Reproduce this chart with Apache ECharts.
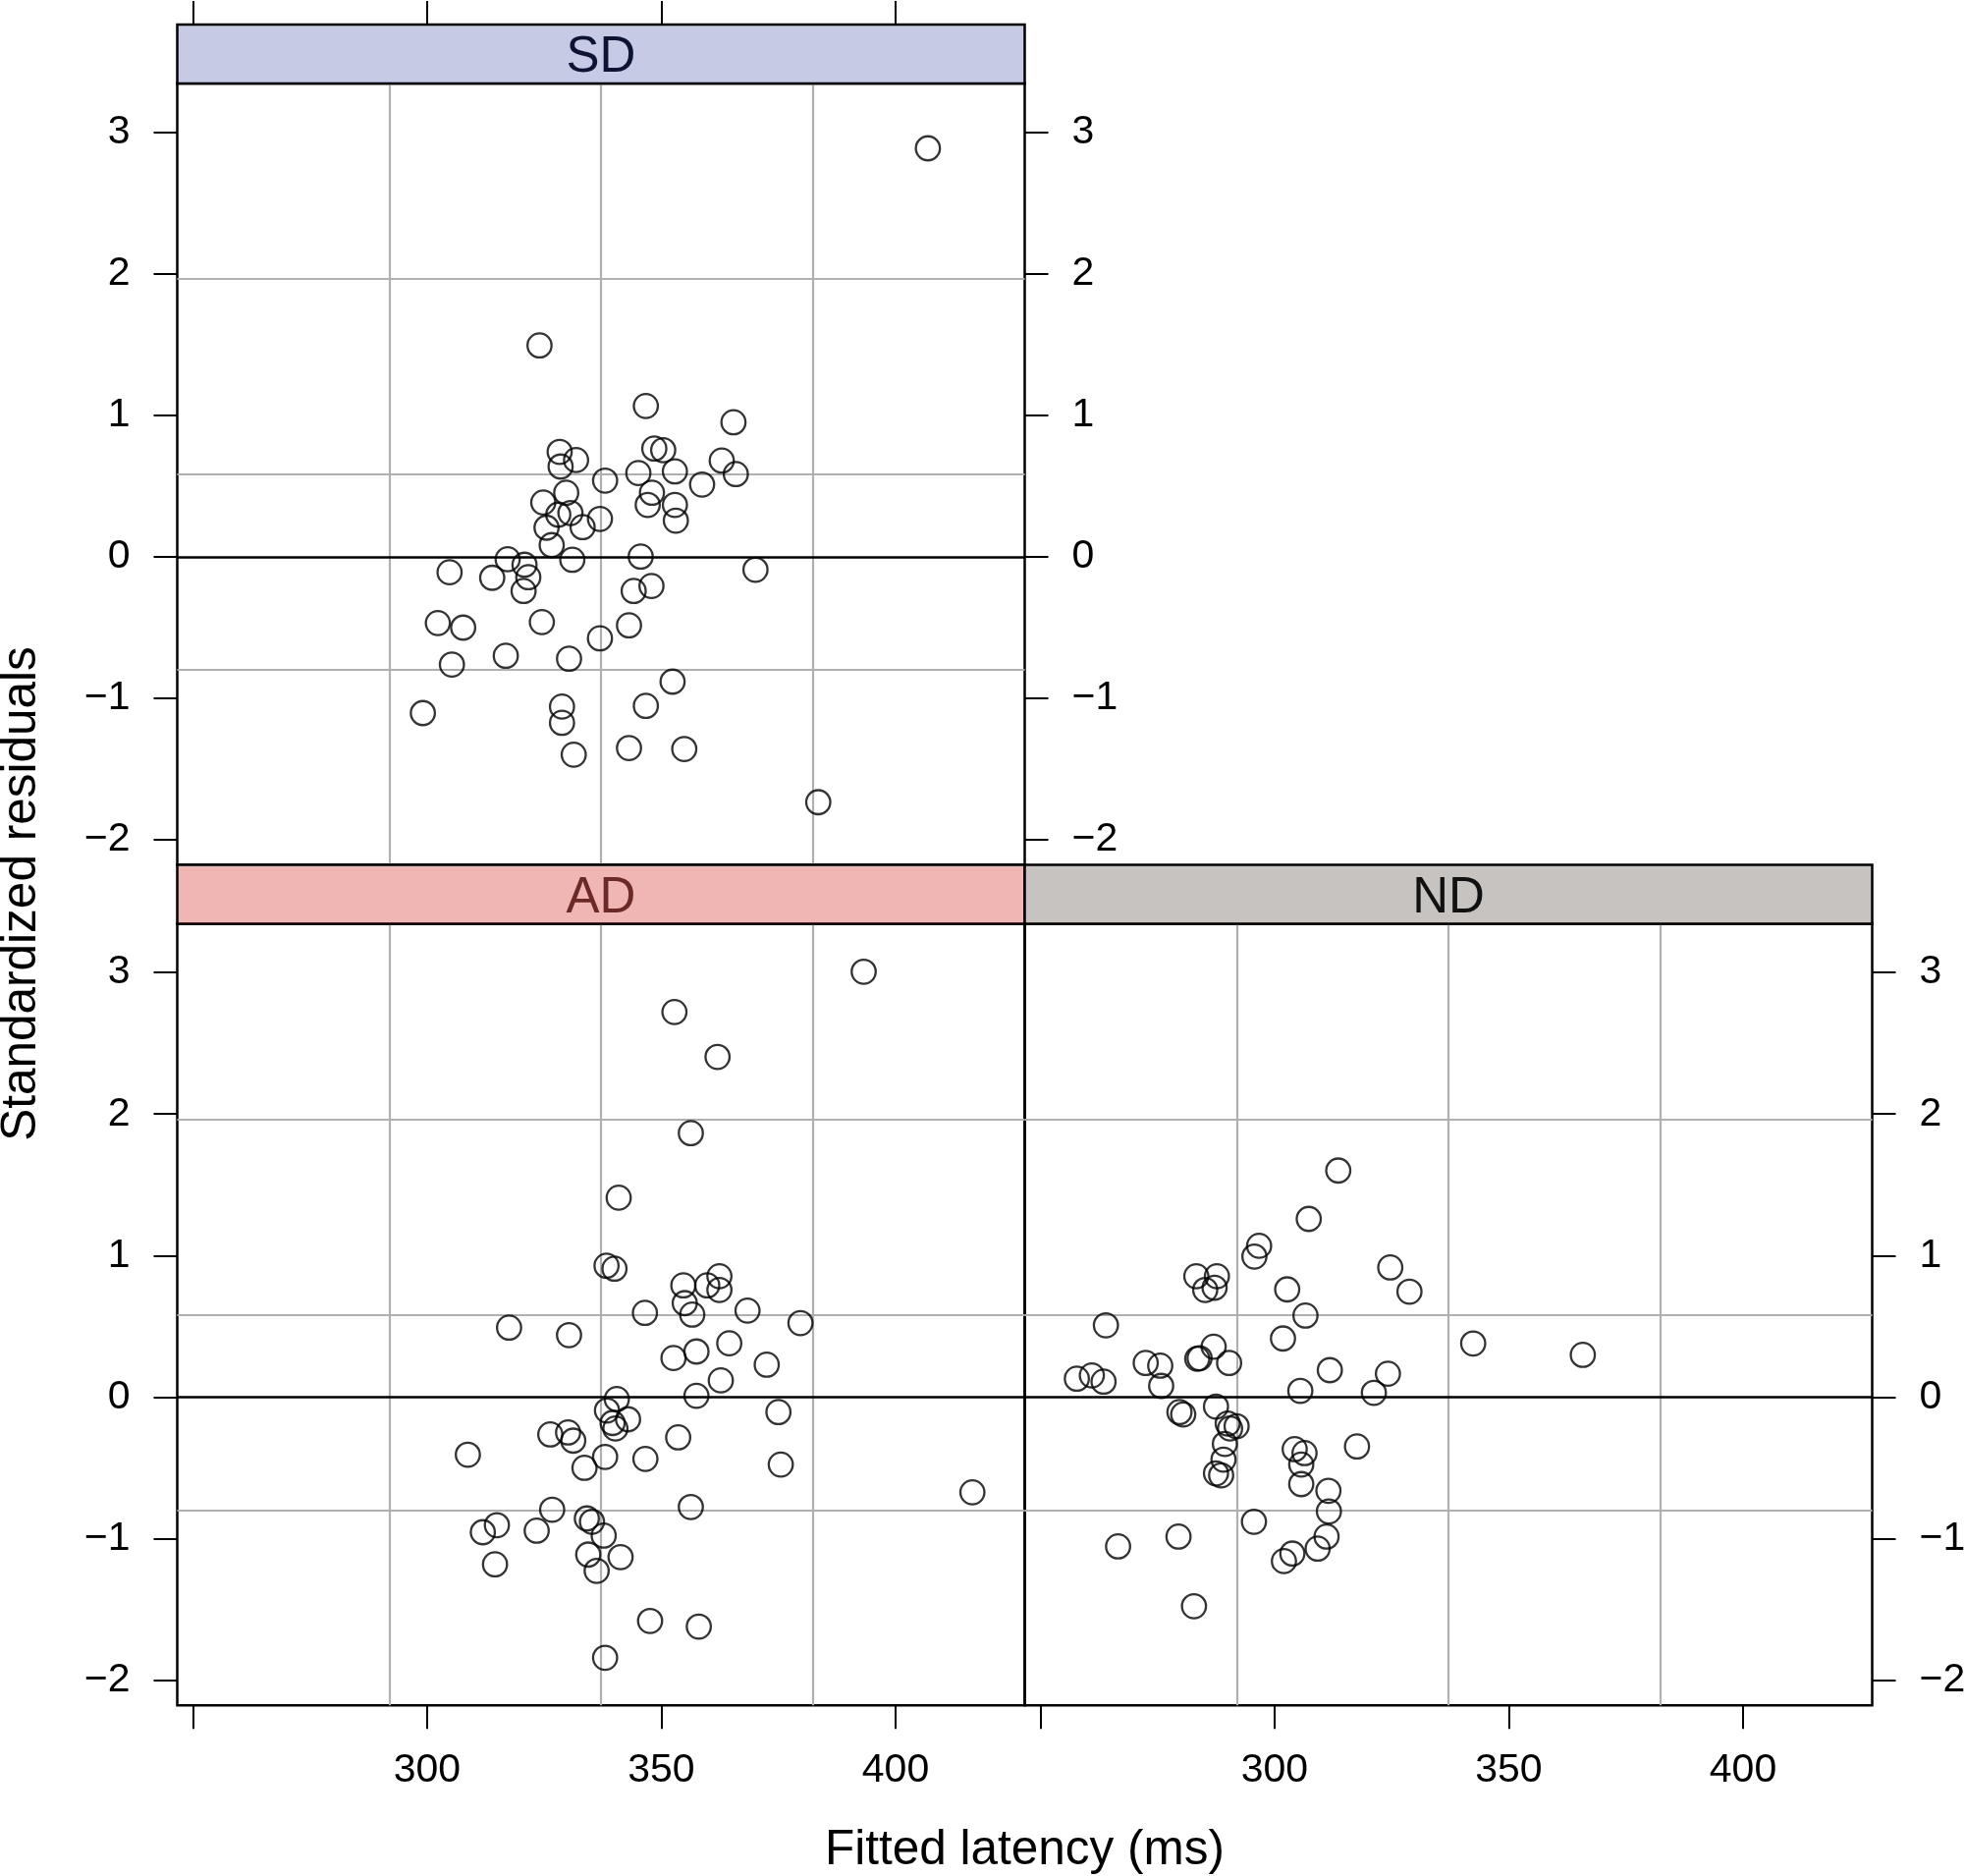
<!DOCTYPE html>
<html><head><meta charset="utf-8">
<script src="https://cdn.jsdelivr.net/npm/echarts@6/dist/echarts.min.js"></script>
<style>html,body{margin:0;padding:0;background:#fff}#c{width:2000px;height:1910px}</style>
</head><body><div id="c"></div>
<script>
// ---------- data ----------
const panelNames = ['SD', 'AD', 'ND'];
const xTicks = [250, 300, 350, 400];
const xTickLabels = [300, 350, 400];
const yTicks = [-2, -1, 0, 1, 2, 3];
const xTitle = 'Fitted latency (ms)';
const yTitle = 'Standardized residuals';

const sdX = [324.0, 346.7, 365.4, 328.3, 331.8, 328.5, 348.5, 350.4, 362.9, 345.1, 352.9, 365.9, 338.0, 358.7, 348.0, 347.1, 352.9, 353.1, 329.7, 324.8, 330.6, 328.0, 336.9, 333.2, 325.5, 326.6, 331.0, 345.6, 317.2, 320.8, 304.8, 313.9, 321.6, 320.6, 370.1, 347.9, 344.1, 302.3, 307.7, 324.5, 343.1, 336.9, 305.3, 316.8, 330.3, 352.4, 299.1, 328.8, 328.8, 346.7, 331.3, 343.1, 354.9, 406.9, 383.5];
const sdY = [1.493, 1.065, 0.950, 0.741, 0.683, 0.637, 0.764, 0.753, 0.679, 0.591, 0.603, 0.584, 0.538, 0.510, 0.452, 0.366, 0.366, 0.255, 0.452, 0.383, 0.309, 0.297, 0.267, 0.209, 0.205, 0.082, -0.022, 0.001, -0.018, -0.057, -0.110, -0.149, -0.145, -0.242, -0.092, -0.207, -0.242, -0.469, -0.501, -0.462, -0.485, -0.577, -0.762, -0.700, -0.721, -0.883, -1.105, -1.059, -1.174, -1.054, -1.399, -1.352, -1.359, 2.886, -1.735];

const adX = [393.2, 352.8, 362.0, 356.3, 340.9, 338.3, 340.0, 354.7, 362.4, 359.8, 362.4, 355.0, 356.6, 346.5, 368.4, 379.7, 317.5, 330.3, 357.5, 352.6, 364.5, 372.5,
  362.7, 357.5, 340.5, 338.4, 342.9, 339.6, 340.2, 375.0, 326.3, 330.1, 331.2, 353.6, 308.7, 338.0, 333.6, 346.6, 375.5, 416.4, 326.7, 356.3, 314.9, 311.9, 323.4, 334.1, 335.2, 337.7, 314.5, 334.4, 341.3, 336.2, 347.6, 358.0, 338.0];
const adY = [3.006, 2.721, 2.404, 1.865, 1.409, 0.928, 0.907, 0.789, 0.854, 0.789, 0.757, 0.664, 0.583, 0.595, 0.611, 0.523, 0.491, 0.438, 0.322, 0.276, 0.380, 0.229,
  0.118, 0.009, -0.014, -0.095, -0.157, -0.183, -0.222, -0.106, -0.264, -0.250, -0.308, -0.285, -0.407, -0.423, -0.500, -0.437, -0.477, -0.673, -0.796, -0.777, -0.905, -0.955, -0.944, -0.858, -0.881, -0.979, -1.182, -1.113, -1.131, -1.228, -1.582, -1.622, -1.842];

const ndX = [313.6, 307.3, 296.7, 295.7, 283.3, 287.7, 285.2, 287.2, 302.7, 306.6, 264.0, 301.8, 287.0, 284.0, 283.5, 290.3, 272.5, 275.6, 311.8, 257.8, 261.0, 263.5, 275.8, 305.5, 321.2, 287.5, 279.7, 280.5, 290.0, 291.9, 290.5, 289.4, 289.1, 287.5, 288.6, 304.3, 306.4, 305.7, 305.7, 317.6, 311.5, 311.6, 295.6, 279.5, 266.6, 311.1, 309.2, 303.8, 302.0, 282.8, 324.7, 328.8, 342.4, 365.8, 324.2];
const ndY = [1.601, 1.259, 1.069, 0.993, 0.854, 0.854, 0.757, 0.773, 0.761, 0.576, 0.507, 0.414, 0.356, 0.275, 0.271, 0.241, 0.241, 0.222, 0.190, 0.130, 0.153, 0.109, 0.079, 0.044, 0.030, -0.067, -0.106, -0.123, -0.187, -0.206, -0.222, -0.331, -0.442, -0.539, -0.553, -0.368, -0.396, -0.477, -0.615, -0.349, -0.662, -0.808, -0.881, -0.986, -1.055, -0.986, -1.071, -1.106, -1.159, -1.478, 0.916, 0.745, 0.379, 0.298, 0.165];

// ---------- layout & style ----------
const X_MIN = 246.67, X_MAX = 427.57, Y_MIN = -2.178, Y_MAX = 3.344;
const PL = 180.5, PW = 863, PH = 795.6, SH = 60;
const TOP1 = 25, TOP2 = TOP1 + SH + PH;           // strip tops
const FONT = 'Liberation Sans';
const TICK_FS = 41, TITLE_FS = 49.5, STRIP_FS = 51;
const stripFill = ['#C6CAE4', '#F0B6B3', '#C6C3C1'];
const stripText = ['#0D1333', '#6B2A25', '#111111'];
const GRIDC = '#b0b0b0';

const grids = [
  {left: PL, top: TOP1 + SH, width: PW, height: PH},
  {left: PL, top: TOP2 + SH, width: PW, height: PH},
  {left: PL + PW, top: TOP2 + SH, width: PW, height: PH}
].map(g => Object.assign(g, {show: true, borderColor: '#000', borderWidth: 2.5, backgroundColor: 'transparent',
  containLabel: false, outerBoundsMode: 'none'}));

const yFmt = v => (v < 0 ? '\u2212' + Math.abs(v) : String(v));
const tickStyle = {color: '#000', width: 2};

function mainX(gi, pos, labels, offset) {
  return {gridIndex: gi, type: 'value', min: X_MIN, max: X_MAX, position: pos, offset: offset || 0,
    axisLine: {show: false, onZero: false},
    axisTick: {show: true, length: 24, customValues: xTicks, lineStyle: tickStyle},
    axisLabel: labels ? {show: true, customValues: xTickLabels, margin: 46, fontSize: TICK_FS, fontFamily: FONT, color: '#000'} : {show: false},
    splitLine: {show: false}};
}
function mainY(gi, pos, labels) {
  return {gridIndex: gi, type: 'value', min: Y_MIN, max: Y_MAX, position: pos,
    axisLine: {show: false, onZero: false},
    axisTick: {show: true, length: 24, customValues: yTicks, lineStyle: tickStyle},
    axisLabel: labels ? {show: true, customValues: yTicks, margin: 48, padding: [5, 0, 0, 0], fontSize: TICK_FS, fontFamily: FONT, color: '#000', formatter: yFmt} : {show: false},
    splitLine: {show: false}};
}
function quarterAxis(gi, pos) {
  return {gridIndex: gi, type: 'value', min: 0, max: 4, interval: 1, position: pos,
    axisLine: {show: false, onZero: false}, axisTick: {show: false}, axisLabel: {show: false},
    splitLine: {show: true, showMinLine: false, showMaxLine: false, lineStyle: {color: GRIDC, width: 2.2}}};
}

const xAxis = [
  mainX(0, 'top', false, SH), quarterAxis(0, 'bottom'),
  mainX(1, 'bottom', true), quarterAxis(1, 'top'),
  mainX(2, 'bottom', true), quarterAxis(2, 'top')
];
const yAxis = [
  mainY(0, 'left', true), mainY(0, 'right', true), quarterAxis(0, 'left'),
  mainY(1, 'left', true), quarterAxis(1, 'right'),
  mainY(2, 'right', true), quarterAxis(2, 'left')
];

function zip(xs, ys) { return xs.map((x, i) => [x, ys[i]]); }
function scatter(name, xs, ys, xi, yi) {
  return {name, type: 'scatter', xAxisIndex: xi, yAxisIndex: yi, data: zip(xs, ys),
    symbol: 'circle', symbolSize: 24.5, z: 5,
    itemStyle: {color: 'rgba(0,0,0,0)', borderColor: '#000', borderWidth: 2.3},
    emphasis: {disabled: true},
    markLine: {silent: true, symbol: 'none', label: {show: false}, animation: false,
      lineStyle: {color: '#000', type: 'solid', width: 2.5}, data: [{yAxis: 0}]}};
}
const series = [
  scatter('SD', sdX, sdY, 0, 0),
  scatter('AD', adX, adY, 2, 3),
  scatter('ND', ndX, ndY, 4, 5)
];

const stripPos = [[PL, TOP1], [PL, TOP2], [PL + PW, TOP2]];
const graphic = [];
stripPos.forEach((p, i) => {
  graphic.push({type: 'rect', z: 10, shape: {x: p[0], y: p[1], width: PW, height: SH},
    style: {fill: stripFill[i], stroke: '#000', lineWidth: 2.5}});
  graphic.push({type: 'text', z: 11, x: p[0] + PW / 2, y: p[1] + SH / 2 + 4,
    style: {text: panelNames[i], fill: stripText[i], font: STRIP_FS + 'px "' + FONT + '"', align: 'center', verticalAlign: 'middle'}});
});
graphic.push({type: 'text', z: 11, x: PL + PW, y: 1884,
  style: {text: xTitle, fill: '#000', font: TITLE_FS + 'px "' + FONT + '"', align: 'center', verticalAlign: 'middle'}});
graphic.push({type: 'text', z: 11, x: 22, y: 910, rotation: Math.PI / 2,
  style: {text: yTitle, fill: '#000', font: TITLE_FS + 'px "' + FONT + '"', align: 'center', verticalAlign: 'middle'}});

const chart = echarts.init(document.getElementById('c'), null, {renderer: 'canvas'});
chart.setOption({animation: false, backgroundColor: '#fff', grid: grids, xAxis, yAxis, series, graphic});
</script></body></html>
